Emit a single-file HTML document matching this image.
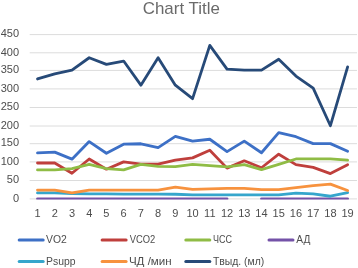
<!DOCTYPE html>
<html><head><meta charset="utf-8"><style>
html,body{margin:0;padding:0;background:#fff;width:358px;height:268px;overflow:hidden}
svg{display:block;will-change:transform}
text{font-family:"Liberation Sans", sans-serif;fill:#4d4d4d}
</style></head><body>
<svg width="358" height="268" viewBox="0 0 358 268">
<rect width="358" height="268" fill="#fff"/>
<text x="181.3" y="13.8" font-size="17" style="fill:#6a6a6a" text-anchor="middle" textLength="77.2" lengthAdjust="spacingAndGlyphs">Chart Title</text>
<line x1="29.7" x2="357.0" y1="198.90" y2="198.90" stroke="#DCDCDC" stroke-width="1"/>
<text x="19.1" y="201.60" font-size="11" text-anchor="end">0</text>
<line x1="29.7" x2="357.0" y1="180.50" y2="180.50" stroke="#DCDCDC" stroke-width="1"/>
<text x="19.1" y="183.20" font-size="11" text-anchor="end">50</text>
<line x1="29.7" x2="357.0" y1="161.90" y2="161.90" stroke="#DCDCDC" stroke-width="1"/>
<text x="19.1" y="164.60" font-size="11" text-anchor="end">100</text>
<line x1="29.7" x2="357.0" y1="143.70" y2="143.70" stroke="#DCDCDC" stroke-width="1"/>
<text x="19.1" y="146.40" font-size="11" text-anchor="end">150</text>
<line x1="29.7" x2="357.0" y1="126.00" y2="126.00" stroke="#DCDCDC" stroke-width="1"/>
<text x="19.1" y="128.70" font-size="11" text-anchor="end">200</text>
<line x1="29.7" x2="357.0" y1="107.50" y2="107.50" stroke="#DCDCDC" stroke-width="1"/>
<text x="19.1" y="110.20" font-size="11" text-anchor="end">250</text>
<line x1="29.7" x2="357.0" y1="88.90" y2="88.90" stroke="#DCDCDC" stroke-width="1"/>
<text x="19.1" y="91.60" font-size="11" text-anchor="end">300</text>
<line x1="29.7" x2="357.0" y1="70.40" y2="70.40" stroke="#DCDCDC" stroke-width="1"/>
<text x="19.1" y="73.10" font-size="11" text-anchor="end">350</text>
<line x1="29.7" x2="357.0" y1="52.80" y2="52.80" stroke="#DCDCDC" stroke-width="1"/>
<text x="19.1" y="55.50" font-size="11" text-anchor="end">400</text>
<line x1="29.7" x2="357.0" y1="34.60" y2="34.60" stroke="#DCDCDC" stroke-width="1"/>
<text x="19.1" y="37.30" font-size="11" text-anchor="end">450</text>
<text x="37.50" y="217.2" font-size="11" text-anchor="middle">1</text>
<text x="54.73" y="217.2" font-size="11" text-anchor="middle">2</text>
<text x="71.96" y="217.2" font-size="11" text-anchor="middle">3</text>
<text x="89.19" y="217.2" font-size="11" text-anchor="middle">4</text>
<text x="106.42" y="217.2" font-size="11" text-anchor="middle">5</text>
<text x="123.65" y="217.2" font-size="11" text-anchor="middle">6</text>
<text x="140.88" y="217.2" font-size="11" text-anchor="middle">7</text>
<text x="158.11" y="217.2" font-size="11" text-anchor="middle">8</text>
<text x="175.34" y="217.2" font-size="11" text-anchor="middle">9</text>
<text x="192.57" y="217.2" font-size="11" text-anchor="middle">10</text>
<text x="209.80" y="217.2" font-size="11" text-anchor="middle">11</text>
<text x="227.03" y="217.2" font-size="11" text-anchor="middle">12</text>
<text x="244.26" y="217.2" font-size="11" text-anchor="middle">13</text>
<text x="261.49" y="217.2" font-size="11" text-anchor="middle">14</text>
<text x="278.72" y="217.2" font-size="11" text-anchor="middle">15</text>
<text x="295.95" y="217.2" font-size="11" text-anchor="middle">16</text>
<text x="313.18" y="217.2" font-size="11" text-anchor="middle">17</text>
<text x="330.41" y="217.2" font-size="11" text-anchor="middle">18</text>
<text x="347.64" y="217.2" font-size="11" text-anchor="middle">19</text>
<defs><clipPath id="pa"><rect x="0" y="0" width="358" height="199.40"/></clipPath></defs>
<g clip-path="url(#pa)">
<path d="M37.50,152.94 L54.73,152.14 L71.96,159.15 L89.19,141.58 L106.42,153.23 L123.65,144.17 L140.88,143.77 L158.11,147.64 L175.34,136.32 L192.57,141.07 L209.80,139.24 L227.03,151.66 L244.26,141.07 L261.49,152.76 L278.72,132.66 L295.95,136.68 L313.18,143.62 L330.41,143.62 L347.64,151.30" fill="none" stroke="#3D70C6" stroke-width="2.8" stroke-linejoin="round" stroke-linecap="round"/>
<path d="M37.50,162.99 L54.73,162.99 L71.96,173.22 L89.19,158.97 L106.42,169.20 L123.65,161.89 L140.88,164.09 L158.11,164.09 L175.34,160.07 L192.57,157.88 L209.80,150.20 L227.03,168.11 L244.26,160.80 L261.49,167.74 L278.72,154.22 L295.95,164.64 L313.18,167.38 L330.41,173.59 L347.64,164.64" fill="none" stroke="#BF3F3C" stroke-width="2.8" stroke-linejoin="round" stroke-linecap="round"/>
<path d="M37.50,169.93 L54.73,169.93 L71.96,168.62 L89.19,164.45 L106.42,168.62 L123.65,169.93 L140.88,164.45 L158.11,166.28 L175.34,166.64 L192.57,164.45 L209.80,165.55 L227.03,166.83 L244.26,164.64 L261.49,169.57 L278.72,164.45 L295.95,158.97 L313.18,158.97 L330.41,158.97 L347.64,160.07" fill="none" stroke="#8FBC45" stroke-width="2.8" stroke-linejoin="round" stroke-linecap="round"/>
<path d="M37.50,198.80 L54.73,198.80 L71.96,198.80 L89.19,198.80 L106.42,198.80 L123.65,198.80 L140.88,198.80 L158.11,198.80 L175.34,198.80 L192.57,198.80 L209.80,198.80 L227.03,198.80" fill="none" stroke="#7452A8" stroke-width="2.8" stroke-linejoin="round" stroke-linecap="round"/>
<path d="M261.49,198.80 L278.72,198.80 L295.95,198.80 L313.18,198.80 L330.41,198.80 L347.64,198.80" fill="none" stroke="#7452A8" stroke-width="2.8" stroke-linejoin="round" stroke-linecap="round"/>
<path d="M37.50,192.95 L54.73,192.95 L71.96,193.50 L89.19,193.87 L106.42,193.87 L123.65,194.05 L140.88,194.05 L158.11,194.05 L175.34,194.23 L192.57,194.96 L209.80,194.96 L227.03,194.96 L244.26,194.96 L261.49,194.96 L278.72,194.96 L295.95,193.14 L313.18,193.90 L330.41,196.24 L347.64,192.70" fill="none" stroke="#35A6CC" stroke-width="2.8" stroke-linejoin="round" stroke-linecap="round"/>
<path d="M37.50,190.03 L54.73,190.03 L71.96,192.95 L89.19,190.03 L106.42,190.03 L123.65,190.03 L140.88,190.03 L158.11,190.03 L175.34,187.11 L192.57,189.30 L209.80,188.93 L227.03,188.39 L244.26,188.39 L261.49,189.67 L278.72,189.67 L295.95,187.66 L313.18,185.65 L330.41,184.18 L347.64,190.54" fill="none" stroke="#F7923E" stroke-width="2.8" stroke-linejoin="round" stroke-linecap="round"/>
<path d="M37.50,78.95 L54.73,73.83 L71.96,70.18 L89.19,57.76 L106.42,64.33 L123.65,61.04 L140.88,85.16 L158.11,57.76 L175.34,85.16 L192.57,98.68 L209.80,45.33 L227.03,69.08 L244.26,70.18 L261.49,70.18 L278.72,59.22 L295.95,76.03 L313.18,88.08 L330.41,125.72 L347.64,66.89" fill="none" stroke="#274A78" stroke-width="2.8" stroke-linejoin="round" stroke-linecap="round"/>
</g>
<line x1="19.2" x2="43.2" y1="240.0" y2="240.0" stroke="#3D70C6" stroke-width="3" stroke-linecap="round"/>
<text x="46.1" y="243.1" font-size="11" textLength="20.8" lengthAdjust="spacingAndGlyphs">VO2</text>
<line x1="102.1" x2="126.1" y1="240.0" y2="240.0" stroke="#BF3F3C" stroke-width="3" stroke-linecap="round"/>
<text x="129.70000000000002" y="243.1" font-size="11" textLength="25.6" lengthAdjust="spacingAndGlyphs">VCO2</text>
<line x1="185.8" x2="209.8" y1="240.0" y2="240.0" stroke="#8FBC45" stroke-width="3" stroke-linecap="round"/>
<text x="212.90000000000003" y="243.1" font-size="11" textLength="19.0" lengthAdjust="spacingAndGlyphs">ЧСС</text>
<line x1="269.0" x2="293.0" y1="240.0" y2="240.0" stroke="#7452A8" stroke-width="3" stroke-linecap="round"/>
<text x="296.3" y="243.1" font-size="11" textLength="14.0" lengthAdjust="spacingAndGlyphs">АД</text>
<line x1="19.2" x2="43.2" y1="261.4" y2="261.4" stroke="#35A6CC" stroke-width="3" stroke-linecap="round"/>
<text x="46.1" y="264.5" font-size="11" textLength="29.5" lengthAdjust="spacingAndGlyphs">Psupp</text>
<line x1="102.1" x2="126.1" y1="261.4" y2="261.4" stroke="#F7923E" stroke-width="3" stroke-linecap="round"/>
<text x="128.9" y="264.5" font-size="11" textLength="42.8" lengthAdjust="spacingAndGlyphs">ЧД /мин</text>
<line x1="185.8" x2="209.8" y1="261.4" y2="261.4" stroke="#274A78" stroke-width="3" stroke-linecap="round"/>
<text x="212.90000000000003" y="264.5" font-size="11" textLength="51.4" lengthAdjust="spacingAndGlyphs">Tвыд. (мл)</text>
</svg>
</body></html>
